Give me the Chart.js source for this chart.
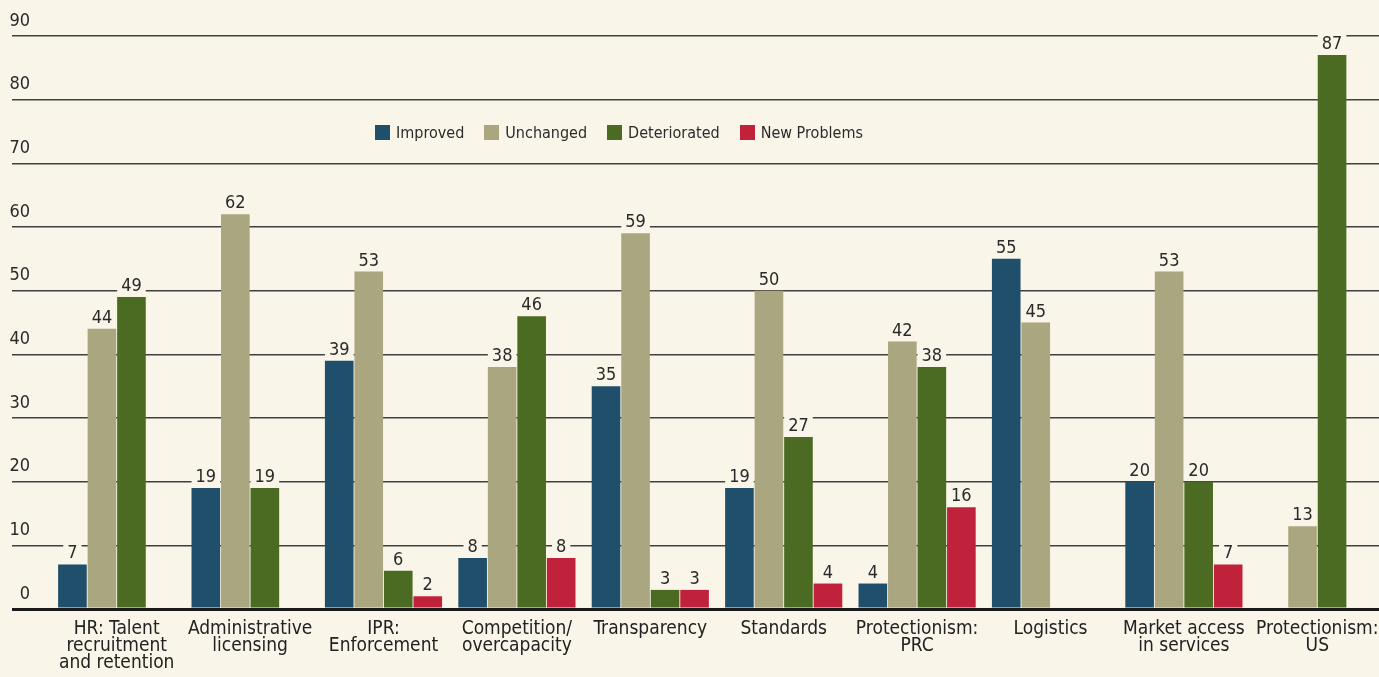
<!DOCTYPE html>
<html>
<head>
<meta charset="utf-8">
<title>Business issues by category</title>
<script src="https://cdn.jsdelivr.net/npm/chart.js@4.4.1/dist/chart.umd.min.js"></script>
<style>
  html, body { margin: 0; padding: 0; background: #f9f5e8; overflow: hidden; }
  #wrap { position: relative; width: 1379px; height: 677px; overflow: hidden; }
  #chart-issues { position: absolute; left: 0; top: 0; }
  #legend { position: absolute; left: 375px; top: 123px; display: flex;
            font: 16px 'DejaVu Sans Condensed', sans-serif; color: #2b2b2b; }
  #legend .item { display: flex; align-items: center; margin-right: 20px; }
  #legend .swatch { width: 15px; height: 15px; margin-right: 6px; }
</style>
</head>
<body>
<div id="wrap">
  <canvas id="chart-issues" width="1390" height="677"></canvas>
  <div id="legend"></div>
</div>
<script>
const categories = [
	['HR: Talent', 'recruitment', 'and retention'],
	['Administrative', 'licensing'],
	['IPR:', 'Enforcement'],
	['Competition/', 'overcapacity'],
	['Transparency'],
	['Standards'],
	['Protectionism:', 'PRC'],
	['Logistics'],
	['Market access', 'in services'],
	['Protectionism:', 'US'],
];

const improved     = [7, 19, 39, 8, 35, 19, 4, 55, 20, null];
const unchanged    = [44, 62, 53, 38, 59, 50, 42, 45, 53, 13];
const deteriorated = [49, 19, 6, 46, 3, 27, 38, null, 20, 87];
const newProblems  = [null, null, 2, 8, 3, 4, 16, null, 7, null];

const seriesNames  = ['Improved', 'Unchanged', 'Deteriorated', 'New Problems'];
const seriesColors = ['#1f4f6b', '#aaa680', '#4b6b23', '#c1223b'];

const pageColor = '#f9f5e8';
const condensed = "'DejaVu Sans Condensed', 'DejaVu Sans', sans-serif";

// number over each bar, on a paper-coloured patch so the gridlines break around it
const valueLabels = {
	id: 'valueLabels',
	afterDatasetsDraw(chart) {
		const ctx = chart.ctx;
		ctx.save();
		ctx.font = '18px ' + condensed;
		ctx.textAlign = 'center';
		ctx.textBaseline = 'alphabetic';
		chart.data.datasets.forEach((ds, i) => {
			chart.getDatasetMeta(i).data.forEach((bar, j) => {
				const v = ds.data[j];
				if (v === null || v === undefined) return;
				const text = String(v);
				const w = ctx.measureText(text).width;
				const base = bar.y - 6;
				ctx.fillStyle = pageColor;
				ctx.fillRect(bar.x - w / 2 - 4, base - 16, w + 8, 18);
				ctx.fillStyle = '#2a2a2a';
				ctx.fillText(text, bar.x, base);
			});
		});
		ctx.restore();
	}
};

const data = {
	labels: categories,
	datasets: [improved, unchanged, deteriorated, newProblems].map((values, i) => ({
		label: seriesNames[i],
		data: values,
		backgroundColor: seriesColors[i],
		borderWidth: 0,
		barPercentage: 0.97,
		categoryPercentage: 0.885,
	})),
};

const config = {
	type: 'bar',
	data: data,
	plugins: [valueLabels],
	options: {
		responsive: false,
		animation: false,
		layout: {
			padding: { left: 0, right: 6, top: 36, bottom: 6 }
		},
		plugins: {
			legend: { display: false },
			tooltip: { enabled: false },
		},
		scales: {
			x: {
				afterFit: (scale) => { scale.height = 62; },
				grid: { display: false },
				border: { display: false },
				ticks: {
					color: '#222',
					padding: 4,
					maxRotation: 0,
					autoSkip: false,
					font: { family: condensed, size: 19, lineHeight: '17px' },
				},
			},
			y: {
				min: 0,
				max: 90,
				// 50px wide axis; the gridline ticks run 38px of it, from x=12
				afterFit: (scale) => { scale.width = 50; },
				border: { display: false },
				grid: {
					color: (c) => c.tick.value === 0 ? '#1a1a1a' : '#404040',
					lineWidth: (c) => c.tick.value === 0 ? 3 : 1.6,
					drawTicks: true,
					tickLength: 38,
				},
				ticks: {
					stepSize: 10,
					color: '#2a2a2a',
					crossAlign: 'near',
					padding: -18,
					labelOffset: -15,
					font: { family: condensed, size: 18 },
				},
			},
		},
	},
};

document.addEventListener('DOMContentLoaded', () => {
	const legend = document.getElementById('legend');
	seriesNames.forEach((name, i) => {
		const item = document.createElement('div');
		item.className = 'item';
		const sw = document.createElement('span');
		sw.className = 'swatch';
		sw.style.background = seriesColors[i];
		item.appendChild(sw);
		item.appendChild(document.createTextNode(name));
		legend.appendChild(item);
	});

	const ctx = document.getElementById('chart-issues');
	const chartIssues = new Chart(ctx, config);
});
</script>
</body>
</html>
